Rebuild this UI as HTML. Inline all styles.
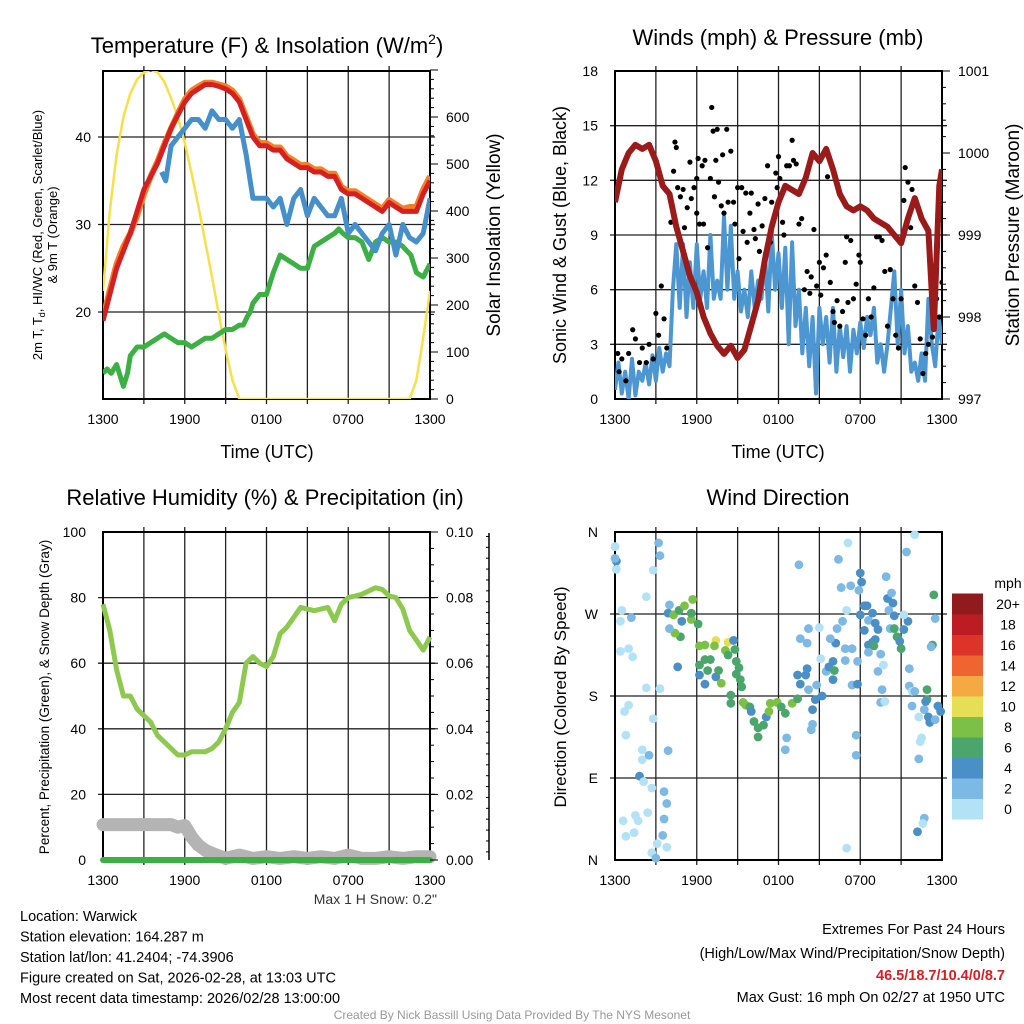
<!DOCTYPE html>
<html><head><meta charset="utf-8"><style>
html,body{margin:0;padding:0;background:#fff;width:1024px;height:1024px;overflow:hidden}
svg{display:block;font-family:"Liberation Sans",sans-serif}
</style></head><body>
<svg id="s" width="1024" height="1024" viewBox="0 0 1024 1024" xmlns="http://www.w3.org/2000/svg"></svg>
<script>
// ---------- DATA ----------
const hoursTicks = [0,6,12,18,24];
const timeLabels = ["1300","1900","0100","0700","1300"];
const halfHours = [0,0.5,1,1.5,2,2.5,3,3.5,4,4.5,5,5.5,6,6.5,7,7.5,8,8.5,9,9.5,10,10.5,11,11.5,12,12.5,13,13.5,14,14.5,15,15.5,16,16.5,17,17.5,18,18.5,19,19.5,20,20.5,21,21.5,22,22.5,23,23.5,24];
const tempRed = [19,22,25,27,29,31.5,34,35.5,37,39,41,42.5,44,45,45.5,46,46,45.8,45.5,45,44,42,40,39,39,38.5,38.5,37.5,37,36.5,36.5,36,36,35.5,35.5,34,33.5,33.5,33,32.5,32,31.5,32.5,32,31.5,31.5,31.5,33.5,35];
const temp9m = [19.3,22.5,25.5,27.5,29,31,33.5,35.5,37.2,39.2,41,42.7,44.3,45.3,45.8,46.2,46.2,46,45.8,45.3,44.3,42.3,40.3,39.3,39.3,38.8,38.8,37.8,37.3,36.8,36.8,36.3,36.3,35.8,35.8,34.3,33.8,33.8,33.3,32.8,32.3,31.8,32.8,32.3,31.8,32,32,34,35.5];
const windChillT = [4.3,4.6,5,5.5,6,6.5,7,7.5,8,8.5,9,9.5,10,10.5,11,11.5,12,12.5,13,13.5,14,14.5,15,15.5,16,16.5,17,17.5,18,18.5,19,19.5,20,20.5,21,21.5,22,22.5,23,23.5,24];
const windChill = [36,35,39,40,41,42,42,41,43,42,42,41,42,38,33,33,33,32,33,30,33,34,31,33,32,31,31,33,29,30,29,28,27,29,30,26.5,30,28.5,28,29,33];
const dewT = [0,0.3,0.6,1,1.5,1.8,2,2.5,3,3.5,4,4.5,5,5.5,6,6.5,7,7.5,8,8.5,9,9.5,10,10.3,10.6,10.8,11,11.5,12,12.5,13,13.5,14,14.5,15,15.5,16,16.5,17,17.3,17.6,18,18.5,19,19.5,20,20.5,21,21.5,22,22.3,22.6,23,23.5,24];
const dewGreen = [13,13.5,13,14,11.5,13,15,16,16,16.5,17,17.5,17,16.5,16.5,16,16.5,17,17,17.5,18,18,18.5,18.5,19.5,20,21,22,22,24.5,26.5,26,25.5,25,25,27.5,28,28.5,29,29.5,29,28.5,28.5,28,26,28,28.5,28,28,27.5,27,26.5,24.5,24,25.5];
const solarT = [0,0.5,1,1.5,2,2.5,3,3.5,4,4.5,5,5.5,6,6.5,7,7.5,8,8.5,9,9.5,10,22.5,23,23.5,24];
const solar = [230,400,520,600,650,680,695,700,695,675,640,600,545,480,410,335,260,180,105,40,0,0,40,130,230];
const sonicWind = [0.5,2,0.3,1.5,0,2.2,0.2,1.5,1,2,0.8,2.4,1,2.8,1.5,2.5,1.8,6,8.5,5,8.5,4.5,7.5,5,8.5,5.5,7,5,9,5.5,6.5,5.5,10,6,9.5,5.5,7,4.8,6,4.5,7,5,6.5,5.5,8,4.8,9.2,6,8,5,8.3,3,8.6,4,6,2.5,5,1.8,4.5,0.3,5,3,4.5,2,5,1.5,4,2.3,4,1.5,3.8,2.5,4.2,2.8,4.5,3.5,5,2,3,1.5,3,5,7,3,6,2.5,4,1.5,2,1,2.5,1,5.5,3,1.8,4.5,3];
const windT = sonicWind.map((v,i)=>i*0.25);
const pressT = [0,0.5,1,1.5,2,2.5,3,3.5,4,4.5,5,5.5,6,6.5,7,7.5,8,8.5,9,9.5,10,10.5,11,11.5,12,12.5,13,13.5,14,14.5,15,15.5,16,16.5,17,17.5,18,18.5,19,19.5,20,20.5,21,21.5,22,22.5,23,23.4,23.8,24];
const pressure = [999.4,999.8,1000,1000.1,1000.05,1000.1,999.9,999.6,999.5,999.1,998.8,998.5,998.3,998,997.8,997.65,997.55,997.65,997.5,997.6,997.9,998.2,998.7,999.1,999.4,999.6,999.55,999.5,999.7,1000,999.9,1000.05,999.8,999.5,999.35,999.3,999.35,999.3,999.2,999.15,999.1,999.0,998.9,999.2,999.45,999.2,999.05,997.85,999.6,999.8];
const gustT = [0.2,0.3,0.5,0.8,1,1.3,1.5,1.8,2,2.3,2.5,2.8,3,3.2,3.4,3.6,3.8,4.1,4.3,4.4,4.5,4.6,4.8,5,5.1,5.3,5.5,5.6,5.8,6,6,6.1,6.2,6.4,6.5,6.6,6.8,7,7.1,7.2,7.3,7.4,7.5,7.6,7.8,7.9,8,8.2,8.3,8.5,8.7,8.8,9,9.1,9.3,9.4,9.6,9.7,9.9,10,10.2,10.3,10.5,10.6,10.8,11,11.2,11.4,11.5,11.8,11.9,12,12.1,12.3,12.4,12.6,12.8,13,13.1,13.3,13.5,13.7,13.9,14.1,14.3,14.4,14.6,14.8,15,15.1,15.3,15.5,15.6,15.8,16,16.1,16.3,16.5,16.7,16.9,17,17.1,17.3,17.5,17.7,17.9,18,18.2,18.4,18.6,18.8,19,19.2,19.4,19.6,19.8,20,20.2,20.4,20.6,20.8,21,21.2,21.3,21.5,21.7,21.8,22,22.2,22.4,22.6,22.8,23,23.3,23.6,23.8,24];
const gust = [2.5,1.5,2.2,1,2.5,3.8,3.3,2,2.8,2,3,2.2,4.7,3.5,6.2,4.4,2.8,9.7,12.5,14.1,13.8,11.6,11.1,11.5,9.4,10.5,13,11,11.6,12.1,10.2,13.2,9.6,12.8,9.6,13.1,8.3,12.1,16,14.7,11.1,13.1,14.8,11.9,10.6,13.4,10.2,14.8,10.8,13.6,10.8,9.6,11.6,7.7,11.6,9.2,11.3,8.6,10.2,11.3,9.3,8.8,10.7,8.1,9.5,11,12.8,8.6,10.8,12.4,11.6,13.3,12.1,9.7,9,12.8,12.8,14.2,13.1,12.9,9.6,9.9,6,7,5.8,6.7,9.3,6.2,7.5,5.7,7.2,7.9,12.2,6.4,4.8,4.2,5.4,4,4.8,7.5,8.9,5.3,8.7,5.5,6.3,7.9,7.5,4.4,3.5,5.5,4.5,6.1,8.9,8.9,8.7,7,4,7.1,5.5,3.5,2.8,5.5,10.9,12.7,11.9,9.4,11.5,6.2,5.3,3.3,1.4,2.5,3,3.4,5.5,4.5,6.4];
const rhT = halfHours;
const rh = [78,70,58,50,50,46,44,42,38,36,34,32,32,33,33,33,34,36,40,45,48,60,62,60,59,62,69,71,74,77,76.5,76,76.5,77,73,78,80,80.5,81,82,83,82.5,80.5,80,76.5,70,67,64,68];
const snowT = [0,1,2,3,4,5,5.5,6,6.5,7,7.5,8,9,10,11,12,13,14,15,16,17,18,19,20,21,22,23,24];
const snow = [10.8,10.8,10.8,10.8,10.8,10.8,10,10.5,7,4.5,3,2,0.5,1.5,0.5,1,0.5,1,0.5,1,0.5,1.5,0.5,0.5,1,0.5,1,1];
const precipT = [0,24];
const precip = [0,0];
const dirT = [
0,0.1,0.1,0,0.5,1.2,0.4,0.4,1.0,1.3,2.3,2.8,3.2,3.3,2.3,3.3,1.0,0.7,2.8,0.8,2.0,2.0,2.5,3.9,1.8,2.1,2.7,3.6,3.8,2.4,1.5,0.6,1.7,1.4,0.8,3.6,3.5,3.1,3.8,2.7,3.0,
4.0,3.9,4.3,4.7,5.1,5.7,5.6,6.1,5.6,4.9,4.8,4.4,4.0,4.6,7.4,8.3,6.2,6.6,7.3,8.7,8.1,8.8,8.3,6.2,6.6,7.0,8.9,6.8,6.2,7.4,7.6,6.6,7.8,8.9,9.1,9.2,9.3,8.5,8.5,9.4,9.6,9.9,10.0,10.2,10.5,10.5,10.9,11.1,11.3,11.4,11.9,12.2,12.5,13.0,13.4,12.6,12.5,
13.5,13.6,14.2,14.1,15.0,13.4,14.0,14.1,13.6,14.2,14.8,14.7,15.2,14.5,14.5,14.4,15.1,15.5,15.7,16.0,16.0,16.1,16.2,15.8,16.3,16.7,16.6,16.4,17.1,17.0,16.9,17.4,16.9,17.8,17.4,17.8,17.3,18.0,18.1,17.9,18.3,18.5,18.0,18.3,18.6,18.9,19.1,19.3,18.6,18.9,19.1,19.0,18.6,19.5,19.3,19.7,19.6,19.5,19.8,19.9,20.0,20.3,20.4,20.1,20.5,20.2,20.5,20.7,20.9,21.0,21.2,21.5,21.2,21.4,22.0,21.6,21.6,21.8,22.0,21.8,22.3,22.7,22.9,22.9,22.8,23.0,23.1,23.5,23.7,23.9,23.4,23.5,23.3,23.2,22.5,22.4,22.3,17.7,17.7,22.7,22.6,22.2,17.0];
const dirDeg = [
344,328,319,331,274,266,262,229,232,223,289,318,348,334,189,188,170,163,155,137,121,110,115,120,92,86,79,75,62,52,49,43,43,30,26,45,27,18,14,8,2,
280,271,269,274,279,286,264,259,271,262,245,249,254,212,241,239,235,236,235,241,230,231,225,214,220,220,218,208,203,201,208,193,194,204,211,198,190,181,172,173,170,168,163,152,145,135,148,157,163,172,173,168,161,172,177,134,121,
324,243,254,238,255,203,203,210,193,187,192,176,180,165,149,143,221,207,212,218,198,208,238,243,254,262,299,330,348,274,232,232,219,218,192,193,301,315,305,296,279,279,269,252,263,271,260,253,236,239,242,235,228,226,207,214,187,173,174,311,287,293,282,274,268,254,254,245,240,232,253,262,269,338,357,210,191,185,185,169,157,165,187,176,174,157,151,154,169,163,291,265,236,234,134,130,111,137,115,46,40,31,13];
const dirSpd = [
1,5,1,3,1,3,1,1,1,1,1,1,3,3,1,1,1,1,1,1,1,1,3,3,5,1,1,3,3,1,1,1,1,1,1,3,3,1,1,1,3,
3,5,9,7,9,9,9,7,7,5,7,9,3,5,10.5,10.5,9,9,9,5,9,7,7,7,7,7,7,7,5,5,7,5,9,7,7,7,7,7,7,9,9,7,5,7,7,7,7,5,9,9,9,7,7,9,7,3,3,
3,3,3,3,1,5,5,5,5,3,3,5,5,5,3,3,1,3,5,5,5,7,5,3,3,3,3,3,1,1,3,3,3,3,3,5,3,5,5,3,5,5,5,5,3,5,5,5,5,5,5,7,3,3,3,1,3,3,1,3,5,3,5,3,5,3,7,7,5,7,5,5,1,3,1,3,3,1,3,3,1,3,7,7,5,5,5,3,5,5,7,3,7,3,1,1,3,3,3,3,1,5,1];
const cbLabels = ["0","2","4","6","8","10","12","14","16","18","20+"];
const cbColors = ["#b3e2f7","#7db9e5","#4a8fc6","#4aa66b","#7cc146","#e6df55","#f5a943","#ef6430","#dd3328","#bb1d23","#901a1c"];

// ---------- HELPERS ----------
const S = document.getElementById('s');
const NS = "http://www.w3.org/2000/svg";
function el(tag, attrs, parent, text){
  const e = document.createElementNS(NS, tag);
  for (const k in attrs) e.setAttribute(k, attrs[k]);
  if (text !== undefined) e.textContent = text;
  (parent || S).appendChild(e);
  return e;
}
function mkX(x0,x1){ return t => x0 + (x1-x0)*t/24; }
function mkY(y0,y1,v0,v1){ return v => y0 + (y1-y0)*(v-v0)/(v1-v0); }
function pathOf(ts, vs, X, Y){
  let d = "";
  const n = Math.min(ts.length, vs.length);
  for (let i=0;i<n;i++) d += (i?"L":"M") + X(ts[i]).toFixed(1) + "," + Y(vs[i]).toFixed(1);
  return d;
}
function txt(x,y,s,size,anchor,parent,extra){
  const a = Object.assign({x:x,y:y,'font-size':size,'text-anchor':anchor||'middle',fill:'#000'}, extra||{});
  return el('text', a, parent, s);
}
function frame(g, x0,y0,x1,y1, hGrid){
  const X = mkX(x0,x1);
  for (let h=3; h<24; h+=3){
    const gl = el('line',{x1:X(h),x2:X(h),y1:y0-5,y2:y1+5,stroke:'#222','stroke-width':1.3},g);
    
    
  }
  hGrid.forEach(y => {
    const gl = el('line',{x1:x0-5,x2:x1+5,y1:y,y2:y,stroke:'#222','stroke-width':1.3},g);
    
    
  });
  const r = el('rect',{x:x0,y:y0,width:x1-x0,height:y1-y0,fill:'none',stroke:'#000','stroke-width':2},g);
  
  
}
function xTicks(g,x0,x1,y1){
  const X = mkX(x0,x1);
  hoursTicks.forEach((h,i)=>{
    const t = txt(X(h), y1+25, timeLabels[i], 14, 'middle', g);
    
    
  });
}
function group(name){
  const g = el('g',{});
  
  
  return g;
}

// ---------- PANEL 1: Temperature ----------
(function(){
  const x0=103,x1=430,y0=71,y1=399;
  const g = group('temperature-panel');
  const X = mkX(x0,x1), Y = mkY(312,137,20,40), YS = mkY(399,117,0,600);
  frame(g,x0,y0,x1,y1,[Y(20),Y(30),Y(40)]);
  const clip = el('clipPath',{id:'c1'},g); el('rect',{x:x0,y:y0,width:x1-x0,height:y1-y0},clip);
  const pg = el('g',{'clip-path':'url(#c1)'},g);
  let p;
  p = el('path',{d:pathOf(solarT,solar,X,YS),fill:'none',stroke:'#f8e04a','stroke-width':2.5},pg);
   
  p = el('path',{d:pathOf(dewT,dewGreen,X,Y),fill:'none',stroke:'#3cb043','stroke-width':5,'stroke-linejoin':'round'},pg);
   
  p = el('path',{d:pathOf(windChillT,windChill,X,Y),fill:'none',stroke:'#4590cb','stroke-width':5,'stroke-linejoin':'round'},pg);
   
  p = el('path',{d:pathOf(halfHours,temp9m,X,Y),fill:'none',stroke:'#f57f26','stroke-width':6,'stroke-linejoin':'round'},pg);
   
  p = el('path',{d:pathOf(halfHours,tempRed,X,Y),fill:'none',stroke:'#d42020','stroke-width':5,'stroke-linejoin':'round'},pg);
   
  [20,30,40].forEach(v=>{ const t=txt(x0-12,Y(v)+5,String(v),14,'end',g);  });
  for (let v=0; v<=700; v+=20){
    const major = v%100===0;
    el('line',{x1:x1,x2:x1+(major?8:4),y1:YS(v),y2:YS(v),stroke:'#000','stroke-width':1},g);
    if (major && v<=600){ const t=txt(x1+16,YS(v)+5,String(v),14,'start',g);  }
  }
  xTicks(g,x0,x1,y1);
  let t = el('text',{x:267,y:53,'font-size':22,'text-anchor':'middle'},g);
  t.innerHTML = 'Temperature (F) &amp; Insolation (W/m<tspan dy="-9" font-size="14">2</tspan><tspan dy="9">)</tspan>';
   
  t = txt(267,458,'Time (UTC)',18,'middle',g);  
  t = el('text',{x:0,y:0,'font-size':13,'text-anchor':'middle',transform:'translate(42,235) rotate(-90)'},g);
  t.innerHTML = '2m T, T<tspan dy="3" font-size="9">d</tspan><tspan dy="-3">, HI/WC (Red, Green, Scarlet/Blue)</tspan>';
   
  t = el('text',{x:0,y:0,'font-size':13,'text-anchor':'middle',transform:'translate(57,235) rotate(-90)'},g,'& 9m T (Orange)');
   
  t = el('text',{x:0,y:0,'font-size':19,'text-anchor':'middle',transform:'translate(500,235) rotate(-90)'},g,'Solar Insolation (Yellow)');
   
})();

// ---------- PANEL 2: Winds ----------
(function(){
  const x0=615,x1=942,y0=71,y1=399;
  const g = group('winds-panel');
  const X = mkX(x0,x1), Y = mkY(399,71,0,18), YP = mkY(399,71,997,1001);
  frame(g,x0,y0,x1,y1,[3,6,9,12,15].map(Y));
  const clip = el('clipPath',{id:'c2'},g); el('rect',{x:x0,y:y0,width:x1-x0,height:y1-y0},clip);
  const pg = el('g',{'clip-path':'url(#c2)'},g);
  let p = el('path',{d:pathOf(windT,sonicWind,X,Y),fill:'none',stroke:'#4c96d2','stroke-width':4,'stroke-linejoin':'round'},pg);
   
  for (let i=0;i<gustT.length;i++){
    const c = el('circle',{cx:X(gustT[i]),cy:Y(gust[i]),r:2.6,fill:'#000'},pg);
    
    
  }
  p = el('path',{d:pathOf(pressT,pressure,X,YP),fill:'none',stroke:'#9b1a1a','stroke-width':6,'stroke-linejoin':'round'},pg);
   
  [0,3,6,9,12,15,18].forEach(v=>{ const t=txt(x0-17,Y(v)+5,String(v),14,'end',g);  });
  for (let k=0;k<=20;k++){
    const v = 997+k*0.2, major = k%5===0;
    el('line',{x1:x1,x2:x1+(major?8:4),y1:YP(v),y2:YP(v),stroke:'#000','stroke-width':1},g);
    if (major){ const t=txt(x1+16,YP(v)+5,String(Math.round(v)),14,'start',g);  }
  }
  xTicks(g,x0,x1,y1);
  let t = txt(778,45,'Winds (mph) & Pressure (mb)',22,'middle',g);  
  t = txt(778,458,'Time (UTC)',18,'middle',g);  
  t = el('text',{x:0,y:0,'font-size':18,'text-anchor':'middle',transform:'translate(566,235) rotate(-90)'},g,'Sonic Wind & Gust (Blue, Black)');
   
  t = el('text',{x:0,y:0,'font-size':19,'text-anchor':'middle',transform:'translate(1019,235) rotate(-90)'},g,'Station Pressure (Maroon)');
   
})();

// ---------- PANEL 3: RH ----------
(function(){
  const x0=103,x1=430,y0=532,y1=860;
  const g = group('humidity-panel');
  const X = mkX(x0,x1), Y = mkY(860,532,0,100), YP = mkY(860,532,0,0.1), YD = mkY(854,593,8,14);
  frame(g,x0,y0,x1,y1,[20,40,60,80].map(Y));
  const clip = el('clipPath',{id:'c3'},g); el('rect',{x:x0-8,y:y0,width:x1-x0+16,height:y1-y0+8},clip);
  const pg = el('g',{'clip-path':'url(#c3)'},g);
  let p = el('path',{d:pathOf(snowT,snow,X,Y),fill:'none',stroke:'#b4b4b4','stroke-width':13,'stroke-linejoin':'round','stroke-linecap':'round'},pg);
   
  p = el('path',{d:pathOf(precipT,precip,X,YP),fill:'none',stroke:'#3cb043','stroke-width':6,'stroke-linecap':'round'},pg);
   
  p = el('path',{d:pathOf(rhT,rh,X,Y),fill:'none',stroke:'#8dc94e','stroke-width':5,'stroke-linejoin':'round'},pg);
   
  for (let v=0; v<=100; v+=20){ const t=txt(x0-17,Y(v)+5,String(v),14,'end',g);  }
  for (let k=0;k<=20;k++){
    const v=k*0.005, major=k%4===0;
    el('line',{x1:x1,x2:x1+(major?8:4),y1:YP(v),y2:YP(v),stroke:'#000','stroke-width':1},g);
    if (major){ const t=txt(x1+16,YP(v)+5,v.toFixed(2),14,'start',g);  }
  }
  el('line',{x1:489,x2:489,y1:533,y2:860,stroke:'#000','stroke-width':1.5},g);
  for (let k=0;k<=30;k++){
    const v=7.8+k*0.25; if (v>15.5) break;
    const major = Math.abs(v-Math.round(v))<0.01 && Math.round(v)%2===0;
    if (YD(v)<533||YD(v)>860) continue;
    el('line',{x1:489-(major?6:3),x2:489,y1:YD(v),y2:YD(v),stroke:'#000','stroke-width':1},g);
    if (major){ const t=txt(505,YD(v)+5,String(Math.round(v)),14,'start',g);  }
  }
  xTicks(g,x0,x1,y1);
  let t = txt(265,505,'Relative Humidity (%) & Precipitation (in)',22,'middle',g);  
  t = el('text',{x:0,y:0,'font-size':13.5,'text-anchor':'middle',transform:'translate(49,697) rotate(-90)'},g,'Percent, Precipitation (Green), & Snow Depth (Gray)');
   
  t = txt(437,904,'Max 1 H Snow: 0.2"',14,'end',g,{fill:'#333'});  
})();

// ---------- PANEL 4: Wind Direction ----------
(function(){
  const x0=615,x1=942,y0=532,y1=860;
  const g = group('wind-direction-panel');
  const X = mkX(x0,x1), Y = mkY(860,532,0,360);
  frame(g,x0,y0,x1,y1,[90,180,270].map(Y));
  const clip = el('clipPath',{id:'c4'},g); el('rect',{x:x0-6,y:y0-6,width:x1-x0+12,height:y1-y0+12},clip);
  const pg = el('g',{'clip-path':'url(#c4)'},g);
  function col(s){ let i=Math.floor(s/2); if(i>10)i=10; if(i<0)i=0; return cbColors[i]; }
  const n = Math.min(dirT.length, dirDeg.length, dirSpd.length);
  for (let i=0;i<n;i++){
    const c = el('circle',{cx:X(dirT[i]),cy:Y(dirDeg[i]),r:4.4,fill:col(dirSpd[i])},pg);
    
    
  }
  ["N","E","S","W","N"].forEach((s,i)=>{ const t=txt(x0-17,Y(i*90)+5,s,14,'end',g);  });
  xTicks(g,x0,x1,y1);
  let t = txt(778,505,'Wind Direction',22,'middle',g);  
  t = el('text',{x:0,y:0,'font-size':17,'text-anchor':'middle',transform:'translate(566,697) rotate(-90)'},g,'Direction (Colored By Speed)');
   
  const lg = group('speed-colorbar');
  t = txt(1008,588,'mph',14,'middle',lg);  
  const bh = 20.5;
  for (let i=0;i<cbColors.length;i++){
    const yTop = 819 - (i+1)*bh;
    const r = el('rect',{x:952,y:yTop,width:31,height:bh+0.5,fill:cbColors[i]},lg);
     
    const l = txt(1008,yTop+bh/2+5,cbLabels[i],14,'middle',lg);  
  }
})();

// ---------- FOOTER ----------
(function(){
  const g = group('station-info');
  const lines = ["Location: Warwick","Station elevation: 164.287 m","Station lat/lon: 41.2404; -74.3906","Figure created on Sat, 2026-02-28, at 13:03 UTC","Most recent data timestamp: 2026/02/28 13:00:00"];
  lines.forEach((s,i)=>{ const t=txt(20,921+i*20.5,s,14.5,'start',g);  });
  const g2 = group('extremes-info');
  let t = txt(1005,934,'Extremes For Past 24 Hours',14.5,'end',g2);  
  t = txt(1005,958,'(High/Low/Max Wind/Precipitation/Snow Depth)',14.5,'end',g2);  
  t = txt(1005,980,'46.5/18.7/10.4/0/8.7',14.5,'end',g2,{fill:'#d42020','font-weight':'bold'});  
  t = txt(1005,1002,'Max Gust: 16 mph On 02/27 at 1950 UTC',14.5,'end',g2);  
  t = txt(512,1019,'Created By Nick Bassill Using Data Provided By The NYS Mesonet',12,'middle',null,{fill:'#999'});  
})();
</script>
</body></html>
